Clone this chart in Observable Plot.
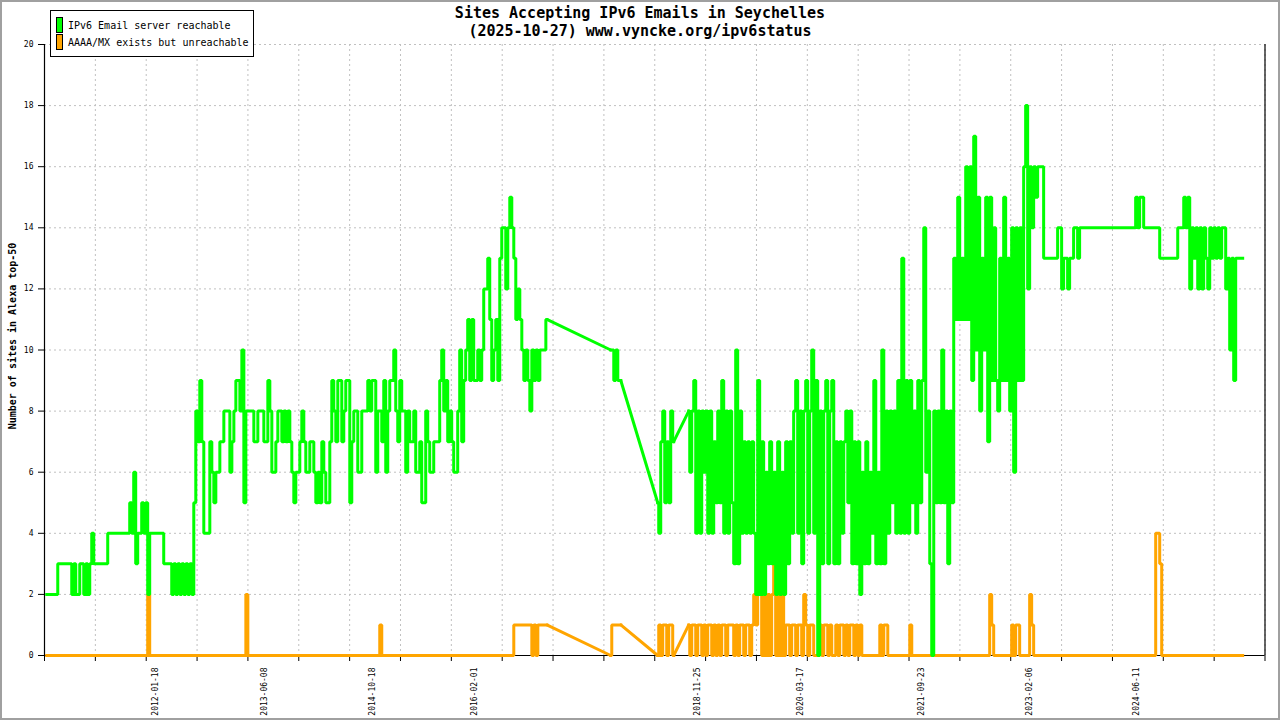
<!DOCTYPE html>
<html>
<head>
<meta charset="utf-8">
<script src="https://cdn.jsdelivr.net/npm/d3@7"></script>
<script src="https://cdn.jsdelivr.net/npm/@observablehq/plot@0.6"></script>
<style>
  body { margin: 0; background: #fff; }
  #wrap { position: relative; width: 1280px; height: 720px; overflow: hidden; font-family: "DejaVu Sans Mono", monospace; color: #000; }
  #wrap::after { content: ""; position: absolute; left: 0; top: 0; right: 0; bottom: 0; border: 2px solid #a0a0a0; pointer-events: none; }
  .title { position: absolute; left: 0; width: 1280px; text-align: center; font-weight: bold; font-size: 15px; line-height: 18px; white-space: pre; }
  .legend { position: absolute; left: 50px; top: 10px; width: 202px; height: 45px; border: 1px solid #000; background: #fff; font-size: 10px; }
  .sw { position: absolute; left: 5px; width: 5px; height: 14px; border: 1px solid #000; }
  .lt { position: absolute; left: 17px; line-height: 12px; white-space: pre; }
  svg { display: block; }
</style>
</head>
<body>
<div id="wrap">
  <div id="chart"></div>
  <div class="title" id="t1" style="top:4px"></div>
  <div class="title" id="t2" style="top:22px"></div>
  <div class="legend" id="legend"></div>
</div>
<script>
// ---------- text ----------
const titleLine1 = "Sites Accepting IPv6 Emails in Seychelles";
const titleLine2 = "(2025-10-27) www.vyncke.org/ipv6status";
const yLabel = "Number of sites in Alexa top-50";
const seriesNames = ["IPv6 Email server reachable", "AAAA/MX exists but unreachable"];
const seriesColors = ["#00ff00", "#ffa500"];

// ---------- axes ----------
const xDomain = ["2010-08-26", "2026-01-27"];
const xLabelDates = ["2012-01-18","2013-06-08","2014-10-18","2016-02-01","2018-11-25","2020-03-17","2021-09-23","2023-02-06","2024-06-11"];
const yTicks = [0,2,4,6,8,10,12,14,16,18,20];

// ---------- data: sampled runs (decimal years); gaps between runs are straight joins ----------
const runFrom = [2010.678, 2017.804, 2018.398, 2018.790];
const runTo   = [2016.996, 2017.931, 2018.600, 2025.789];

const green1 = [
  2,2,2,2,2,2,3,3,3,3,
  3,3,3,2,3,2,2,3,3,2,
  3,2,3,4,3,3,3,3,3,3,
  3,4,4,4,4,4,4,4,4,4,
  4,4,5,4,6,3,4,4,5,4,
  5,2,4,4,4,4,4,4,4,3,
  3,3,3,2,3,2,3,2,3,2,
  3,2,3,2,5,8,7,9,7,4,
  4,4,7,6,5,6,6,7,7,8,
  8,8,6,7,8,9,9,8,10,5,
  8,8,8,8,7,7,8,8,8,7,
  7,9,8,6,6,7,8,8,7,8,
  7,8,7,6,5,6,6,7,8,7,
  6,6,7,7,6,5,6,5,7,6,
  5,5,7,9,8,7,9,9,7,8,
  9,9,5,7,8,8,6,6,8,8,
  8,9,8,9,9,6,8,8,7,9,
  6,8,9,9,10,8,7,9,8,8,
  6,8,7,7,8,6,6,7,5,5,
  8,7,6,6,7,7,7,9,10,8,
  9,7,8,7,6,6,8,10,7,9,
  10,11,9,11,9,9,10,9,10,12,
  12,13,11,9,10,11,9,13,14,14,
  12,14,15,14,13,11,12,11,10,9,
  10,9,8,10,9,10,9,10,10,10,
  11
];
const green2 = [10,10,9,10,9,9];
const green3 = [5,4,7,8,5,7,5,8,7];
const green4 = [
  8,6,8,9,4,8,4,8,6,8,
  4,8,4,7,5,8,5,9,4,8,
  4,8,5,3,10,3,8,4,7,4,
  7,4,7,4,2,9,2,7,2,6,
  3,7,3,6,2,7,2,6,2,7,
  3,7,4,8,9,4,8,3,8,9,
  4,8,10,4,9,0,8,3,8,9,
  3,8,9,3,7,3,7,4,7,8,
  5,8,3,7,3,7,2,6,3,7,
  3,6,4,9,3,6,3,10,3,8,
  4,8,5,8,4,9,4,13,4,9,
  4,9,5,8,4,9,5,9,14,6,
  8,3,0,8,5,8,5,10,5,8,
  3,8,5,13,11,15,11,13,11,16,
  11,16,9,17,10,15,8,13,10,15,
  7,15,9,14,9,8,13,9,15,9,
  13,8,14,6,14,9,14,9,16,18,
  12,16,14,16,15,16,16,16,13,13,
  13,13,13,13,13,14,14,12,13,13,
  12,13,13,14,14,13,14,14,14,14,
  14,14,14,14,14,14,14,14,14,14,
  14,14,14,14,14,14,14,14,14,14,
  14,14,14,14,15,14,15,15,14,14,
  14,14,14,14,14,14,13,13,13,13,
  13,13,13,13,13,14,14,14,15,14,
  15,12,14,13,14,12,14,12,14,13,
  12,14,13,14,13,14,13,14,14,12,
  13,10,13,9,13,13,13,13
];

const orange1 = [
  0,0,0,0,0,0,0,0,0,0,
  0,0,0,0,0,0,0,0,0,0,
  0,0,0,0,0,0,0,0,0,0,
  0,0,0,0,0,0,0,0,0,0,
  0,0,0,0,0,0,0,0,0,0,
  0,2,0,0,0,0,0,0,0,0,
  0,0,0,0,0,0,0,0,0,0,
  0,0,0,0,0,0,0,0,0,0,
  0,0,0,0,0,0,0,0,0,0,
  0,0,0,0,0,0,0,0,0,0,
  2,0,0,0,0,0,0,0,0,0,
  0,0,0,0,0,0,0,0,0,0,
  0,0,0,0,0,0,0,0,0,0,
  0,0,0,0,0,0,0,0,0,0,
  0,0,0,0,0,0,0,0,0,0,
  0,0,0,0,0,0,0,0,0,0,
  0,0,0,0,0,0,0,1,0,0,
  0,0,0,0,0,0,0,0,0,0,
  0,0,0,0,0,0,0,0,0,0,
  0,0,0,0,0,0,0,0,0,0,
  0,0,0,0,0,0,0,0,0,0,
  0,0,0,0,0,0,0,0,0,0,
  0,0,0,0,0,0,0,0,0,0,
  0,0,0,0,1,1,1,1,1,1,
  1,1,1,0,1,0,1,1,1,1,
  1
];
const orange2 = [0,1,1,1,1,1];
const orange3 = [0,1,0,1,1,0,1,1,0];
const orange4 = [
  1,0,1,1,0,1,1,0,1,0,
  1,1,0,1,0,1,0,1,1,0,
  1,1,1,0,1,0,1,1,0,1,
  1,0,1,2,1,3,2,0,2,0,
  2,0,2,3,0,2,0,2,0,1,
  1,0,1,1,0,1,1,0,2,1,
  0,1,1,0,0,0,1,0,1,1,
  0,1,0,0,1,0,1,1,0,1,
  0,1,1,0,1,0,1,0,0,0,
  0,0,0,0,0,0,1,0,1,1,
  0,0,0,0,0,0,0,0,0,0,
  0,1,0,0,0,0,0,0,0,0,
  0,0,0,0,0,0,0,0,0,0,
  0,0,0,0,0,0,0,0,0,0,
  0,0,0,0,0,0,0,0,0,0,
  0,2,1,0,0,0,0,0,0,0,
  0,0,1,0,1,1,0,0,0,0,
  0,2,1,0,0,0,0,0,0,0,
  0,0,0,0,0,0,0,0,0,0,
  0,0,0,0,0,0,0,0,0,0,
  0,0,0,0,0,0,0,0,0,0,
  0,0,0,0,0,0,0,0,0,0,
  0,0,0,0,0,0,0,0,0,0,
  0,0,0,0,4,4,3,0,0,0,
  0,0,0,0,0,0,0,0,0,0,
  0,0,0,0,0,0,0,0,0,0,
  0,0,0,0,0,0,0,0,0,0,
  0,0,0,0,0,0,0,0
];

// ---------- build ----------
function fromYear(y) {
  const Y = Math.floor(y);
  const a = Date.UTC(Y, 0, 1), b = Date.UTC(Y + 1, 0, 1);
  return new Date(a + (y - Y) * (b - a));
}
function expand(runs) {
  const points = [];
  runs.forEach((vals, i) => {
    const n = vals.length;
    vals.forEach((v, j) => {
      points.push({date: fromYear(runFrom[i] + (runTo[i] - runFrom[i]) * j / (n - 1)), value: v, run: i});
    });
  });
  return points;
}
function joins(points) {
  const out = [];
  for (let k = 1; k < points.length; k++) {
    if (points[k].run !== points[k - 1].run) {
      out.push({...points[k - 1], join: k}, {...points[k], join: k});
    }
  }
  return out;
}
const greenData = expand([green1, green2, green3, green4]);
const orangeData = expand([orange1, orange2, orange3, orange4]);

const x0 = new Date(xDomain[0]), x1 = new Date(xDomain[1]);
const xTicks = d3.range(25).map(k => new Date(+x0 + k * (x1 - x0) / 24));
const labelDates = xLabelDates.map(d => new Date(d));
const fmt = d3.utcFormat("%Y-%m-%d");

const grid = {stroke: "#c0c0c0", strokeOpacity: 1, strokeDasharray: "2,3", strokeWidth: 1};
const lineOpts = (color, z, curve) => ({x: "date", y: "value", z, stroke: color, strokeWidth: 3, curve, strokeLinejoin: "miter", strokeLinecap: "square"});

const chart = Plot.plot({
  width: 1280,
  height: 720,
  marginLeft: 44,
  marginRight: 15.5,
  marginTop: 44,
  marginBottom: 65,
  x: {type: "utc", domain: [x0, x1], axis: null},
  y: {domain: [0, 20], axis: null},
  style: {fontFamily: "'DejaVu Sans Mono', monospace", fontSize: "8px", color: "#000", background: "transparent"},
  marks: [
    Plot.gridX(xTicks, grid),
    Plot.gridY(yTicks, grid),
    Plot.ruleX([x0, x1], {stroke: "#000", strokeWidth: 1.2}),
    Plot.ruleY([0], {stroke: "#000", strokeWidth: 1.2}),
    Plot.axisY(yTicks, {anchor: "left", tickSize: 6, tickPadding: 5, label: null, fontSize: 8}),
    Plot.axisX(xTicks, {anchor: "bottom", tickSize: 6, tickFormat: () => "", label: null}),
    Plot.axisX(labelDates, {anchor: "bottom", tickSize: 0, tickPadding: 12, tickRotate: -90, tickFormat: fmt, label: null, fontSize: 8}),
    Plot.line(orangeData, lineOpts(seriesColors[1], "run", "step")),
    Plot.line(joins(orangeData), {...lineOpts(seriesColors[1], "join", "linear"), strokeLinejoin: "round", strokeLinecap: "round"}),
    Plot.line(greenData, lineOpts(seriesColors[0], "run", "step")),
    Plot.line(joins(greenData), {...lineOpts(seriesColors[0], "join", "linear"), strokeLinejoin: "round", strokeLinecap: "round"}),
    Plot.text([yLabel], {text: d => d, frameAnchor: "left", textAnchor: "middle", rotate: -90, dx: -32, dy: -14, fontSize: 10, fontWeight: "bold"})
  ]
});
document.getElementById("chart").appendChild(chart);

document.getElementById("t1").textContent = titleLine1;
document.getElementById("t2").textContent = titleLine2;
const legend = document.getElementById("legend");
seriesNames.forEach((name, i) => {
  const sw = document.createElement("div");
  sw.className = "sw";
  sw.style.top = (6 + i * 17) + "px";
  sw.style.background = seriesColors[i];
  legend.appendChild(sw);
  const t = document.createElement("div");
  t.className = "lt";
  t.style.top = (9 + i * 17) + "px";
  t.textContent = name;
  legend.appendChild(t);
});
</script>
</body>
</html>
